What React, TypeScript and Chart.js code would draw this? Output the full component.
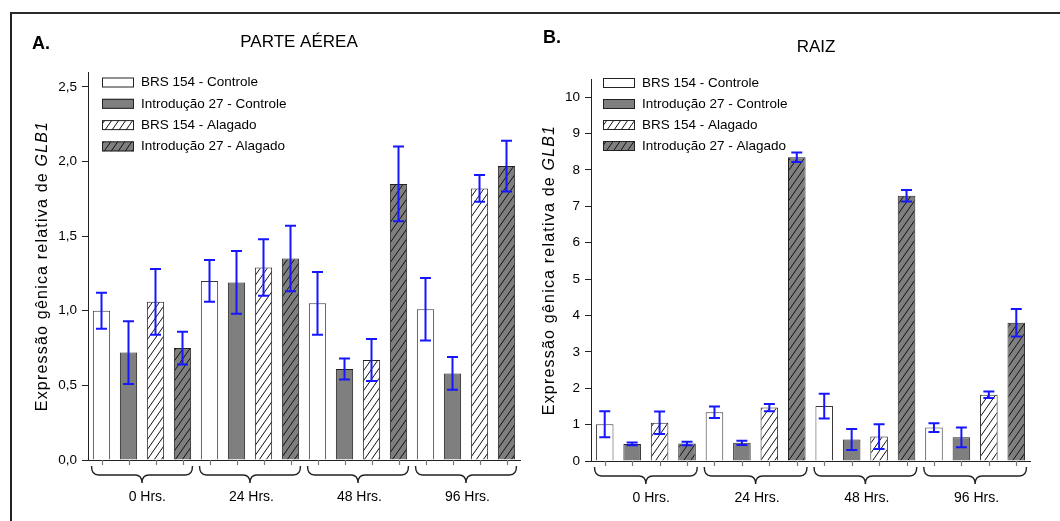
import React, { useEffect, useRef } from 'react';
import { Chart, registerables } from 'chart.js';

Chart.register(...registerables);

const FONT = '"Liberation Sans", Arial, Helvetica, sans-serif';

// ---------- data ----------
const timeLabels = ['0 Hrs.', '24 Hrs.', '48 Hrs.', '96 Hrs.'];
const seriesNames = [
  'BRS 154 - Controle',
  'Introdução 27 - Controle',
  'BRS 154 - Alagado',
  'Introdução 27 - Alagado',
];

// A. PARTE AÉREA
const shootBrsControl = [1.0, 1.2, 1.05, 1.01];
const shootBrsControlErr = [0.12, 0.14, 0.21, 0.21];
const shootIntControl = [0.72, 1.19, 0.61, 0.58];
const shootIntControlErr = [0.21, 0.21, 0.07, 0.11];
const shootBrsFlooded = [1.06, 1.29, 0.67, 1.82];
const shootBrsFloodedErr = [0.22, 0.19, 0.14, 0.09];
const shootIntFlooded = [0.75, 1.35, 1.85, 1.97];
const shootIntFloodedErr = [0.11, 0.22, 0.25, 0.17];
const shootYTicks = [0, 0.5, 1.0, 1.5, 2.0, 2.5];

// B. RAIZ
const rootBrsControl = [1.01, 1.34, 1.51, 0.92];
const rootBrsControlErr = [0.36, 0.16, 0.34, 0.12];
const rootIntControl = [0.47, 0.5, 0.59, 0.65];
const rootIntControlErr = [0.04, 0.06, 0.29, 0.27];
const rootBrsFlooded = [1.05, 1.47, 0.67, 1.82];
const rootBrsFloodedErr = [0.31, 0.1, 0.34, 0.09];
const rootIntFlooded = [0.48, 8.35, 7.29, 3.8];
const rootIntFloodedErr = [0.05, 0.13, 0.16, 0.38];
const rootYTicks = [0, 1, 2, 3, 4, 5, 6, 7, 8, 9, 10];

// ---------- styling ----------
const GRAY = '#7f7f7f';
const ERR = '#1717ff';
const INK = '#000000';

function hatch(bg: string): CanvasPattern | string {
  const w = 7;
  const h = 10;
  const c = document.createElement('canvas');
  c.width = w;
  c.height = h;
  const g = c.getContext('2d');
  if (!g) return bg;
  g.fillStyle = bg;
  g.fillRect(0, 0, w, h);
  g.strokeStyle = '#111';
  g.lineWidth = 1;
  for (let k = -1; k <= 1; k++) {
    g.beginPath();
    g.moveTo(k * w, h);
    g.lineTo(k * w + w, 0);
    g.stroke();
  }
  const p = g.createPattern(c, 'repeat');
  return p || bg;
}

type Panel = {
  letter: string;
  title: string;
  values: number[][];
  errors: number[][];
  yMax: number;
  yTicks: number[];
  fmt: (v: number) => string;
  area: { left: number; right: number; top: number; bottom: number };
  letterPos: [number, number];
  titlePos: [number, number];
  yTitleX: number;
  legendX: number;
  legendTextX: number;
  legendY: number;
  legendStep: number;
};

const CW = 530;
const CH = 521;

function makeChart(canvas: HTMLCanvasElement, p: Panel): Chart {
  const fills: (string | CanvasPattern)[] = ['#ffffff', GRAY, hatch('#ffffff'), hatch(GRAY)];
  const borders = ['#3a3a3a', '#222222', '#222222', '#222222'];

  const decor = {
    id: 'decor' + p.letter,
    afterDatasetsDraw(chart: any) {
      const ctx: CanvasRenderingContext2D = chart.ctx;
      const ys = chart.scales.y;
      ctx.save();
      ctx.strokeStyle = ERR;
      ctx.lineWidth = 2;
      chart.data.datasets.forEach((_ds: any, di: number) => {
        const meta = chart.getDatasetMeta(di);
        meta.data.forEach((el: any, i: number) => {
          const v = p.values[di][i];
          const e = p.errors[di][i];
          const yt = ys.getPixelForValue(v + e);
          const yb = ys.getPixelForValue(v - e);
          const x = el.x;
          ctx.beginPath();
          ctx.moveTo(x, yt);
          ctx.lineTo(x, yb);
          ctx.moveTo(x - 5.5, yt);
          ctx.lineTo(x + 5.5, yt);
          ctx.moveTo(x - 5.5, yb);
          ctx.lineTo(x + 5.5, yb);
          ctx.stroke();
        });
      });
      ctx.restore();
    },
    afterDraw(chart: any) {
      const ctx: CanvasRenderingContext2D = chart.ctx;
      const xs = chart.scales.x;
      const area = chart.chartArea;
      const bottom = area.bottom;
      ctx.save();

      // x ticks at bar centres
      ctx.strokeStyle = '#777';
      ctx.lineWidth = 1.2;
      chart.data.datasets.forEach((_ds: any, di: number) => {
        chart.getDatasetMeta(di).data.forEach((el: any) => {
          ctx.beginPath();
          ctx.moveTo(Math.round(el.x) + 0.5, bottom);
          ctx.lineTo(Math.round(el.x) + 0.5, bottom + 5);
          ctx.stroke();
        });
      });

      // braces + group labels
      const step = xs.getPixelForValue(1) - xs.getPixelForValue(0);
      const half = step / 2 - 3.5;
      const top = bottom + 6;
      const mid = bottom + 15;
      const low = bottom + 23;
      const r = 7;
      ctx.strokeStyle = '#222';
      ctx.lineWidth = 1.4;
      ctx.fillStyle = INK;
      ctx.font = `14px ${FONT}`;
      ctx.textAlign = 'right';
      ctx.textBaseline = 'middle';
      timeLabels.forEach((lab, i) => {
        const cx = xs.getPixelForValue(i);
        const x0 = cx - half;
        const x1 = cx + half;
        ctx.beginPath();
        ctx.moveTo(x0, top);
        ctx.quadraticCurveTo(x0, mid, x0 + r, mid);
        ctx.lineTo(cx - r, mid);
        ctx.quadraticCurveTo(cx, mid, cx, low);
        ctx.moveTo(x1, top);
        ctx.quadraticCurveTo(x1, mid, x1 - r, mid);
        ctx.lineTo(cx + r, mid);
        ctx.quadraticCurveTo(cx, mid, cx, low);
        ctx.stroke();
        ctx.fillText(lab, cx + 24, bottom + 37);
      });

      // panel letter + title
      ctx.textBaseline = 'middle';
      ctx.textAlign = 'left';
      ctx.font = `bold 18px ${FONT}`;
      ctx.fillText(p.letter, p.letterPos[0], p.letterPos[1]);
      ctx.textAlign = 'center';
      ctx.font = `17px ${FONT}`;
      ctx.fillText(p.title, p.titlePos[0], p.titlePos[1]);

      // legend
      ctx.font = `13.5px ${FONT}`;
      ctx.textAlign = 'left';
      seriesNames.forEach((name, i) => {
        const cy = p.legendY + i * p.legendStep;
        ctx.fillStyle = fills[i] as any;
        ctx.fillRect(p.legendX, cy - 5, 32, 10);
        ctx.strokeStyle = '#222';
        ctx.lineWidth = 1;
        ctx.strokeRect(p.legendX + 0.5, cy - 4.5, 31, 9);
        ctx.fillStyle = INK;
        ctx.fillText(name, p.legendTextX, cy);
      });

      // y axis title with italic gene name
      const partA = 'Expressão gênica relativa de ';
      const partB = 'GLB1';
      (ctx as any).letterSpacing = '1.2px';
      ctx.font = `16px ${FONT}`;
      const wA = ctx.measureText(partA).width;
      ctx.font = `italic 16px ${FONT}`;
      const wB = ctx.measureText(partB).width;
      const total = wA + wB;
      ctx.translate(p.yTitleX, (area.top + area.bottom) / 2);
      ctx.rotate(-Math.PI / 2);
      ctx.fillStyle = INK;
      ctx.textAlign = 'left';
      ctx.font = `16px ${FONT}`;
      ctx.fillText(partA, -total / 2, 0);
      ctx.font = `italic 16px ${FONT}`;
      ctx.fillText(partB, -total / 2 + wA, 0);
      (ctx as any).letterSpacing = '0px';
      ctx.restore();
    },
  };

  const datasets = p.values.map((vals, i) => ({
    label: seriesNames[i],
    data: vals,
    backgroundColor: fills[i] as any,
    borderColor: borders[i],
    borderWidth: 1,
    categoryPercentage: 1,
    barPercentage: 0.64,
  }));

  const a = p.area;
  return new Chart(canvas, {
    type: 'bar',
    data: { labels: timeLabels, datasets },
    options: {
      responsive: false,
      maintainAspectRatio: false,
      animation: false,
      devicePixelRatio: 1,
      layout: {
        padding: { left: a.left - 40, right: CW - a.right, top: a.top, bottom: CH - a.bottom },
      },
      plugins: { legend: { display: false }, tooltip: { enabled: false }, title: { display: false } },
      scales: {
        x: {
          ticks: { display: false },
          grid: { display: false },
          border: { display: true, color: '#222', width: 1 },
          afterFit: (s: any) => {
            s.height = 0;
          },
        },
        y: {
          min: 0,
          max: p.yMax,
          afterFit: (s: any) => {
            s.width = 40;
          },
          afterBuildTicks: (s: any) => {
            s.ticks = p.yTicks.map((v) => ({ value: v }));
          },
          ticks: {
            color: INK,
            padding: 5,
            font: { family: FONT, size: 13.5 },
            callback: (v: any) => p.fmt(Number(v)),
          },
          grid: { drawOnChartArea: false, tickLength: 6, color: '#222', tickColor: '#222' },
          border: { color: '#222', width: 1 },
        },
      },
    } as any,
    plugins: [decor as any],
  });
}

const shootPanel: Panel = {
  letter: 'A.',
  title: 'PARTE AÉREA',
  values: [shootBrsControl, shootIntControl, shootBrsFlooded, shootIntFlooded],
  errors: [shootBrsControlErr, shootIntControlErr, shootBrsFloodedErr, shootIntFloodedErr],
  yMax: 2.6,
  yTicks: shootYTicks,
  fmt: (v) => v.toFixed(1).replace('.', ','),
  area: { left: 88, right: 520, top: 72, bottom: 460 },
  letterPos: [32, 44],
  titlePos: [299, 42],
  yTitleX: 43,
  legendX: 102,
  legendTextX: 141,
  legendY: 82.5,
  legendStep: 21.3,
};

const rootPanel: Panel = {
  letter: 'B.',
  title: 'RAIZ',
  values: [rootBrsControl, rootIntControl, rootBrsFlooded, rootIntFlooded],
  errors: [rootBrsControlErr, rootIntControlErr, rootBrsFloodedErr, rootIntFloodedErr],
  yMax: 10.5,
  yTicks: rootYTicks,
  fmt: (v) => String(Math.round(v)),
  area: { left: 61, right: 500, top: 79, bottom: 461 },
  letterPos: [13, 38],
  titlePos: [286, 47],
  yTitleX: 20,
  legendX: 73,
  legendTextX: 112,
  legendY: 83,
  legendStep: 21,
};

function PanelChart({ panel, left }: { panel: Panel; left: number }) {
  const ref = useRef<HTMLCanvasElement | null>(null);
  useEffect(() => {
    if (!ref.current) return;
    const chart = makeChart(ref.current, panel);
    return () => chart.destroy();
  }, [panel]);
  return (
    <canvas
      ref={ref}
      width={CW}
      height={CH}
      style={{ position: 'absolute', left, top: 0, width: CW, height: CH }}
    />
  );
}

export default function App() {
  return (
    <div
      style={{
        position: 'absolute',
        left: 0,
        top: 0,
        width: 1060,
        height: 521,
        overflow: 'hidden',
        background: '#ffffff',
      }}
    >
      <div
        style={{
          position: 'absolute',
          left: 10,
          top: 12,
          width: 1200,
          height: 700,
          borderTop: '2px solid #2a2a2a',
          borderLeft: '2px solid #222',
        }}
      />
      <PanelChart panel={shootPanel} left={0} />
      <PanelChart panel={rootPanel} left={530} />
    </div>
  );
}
